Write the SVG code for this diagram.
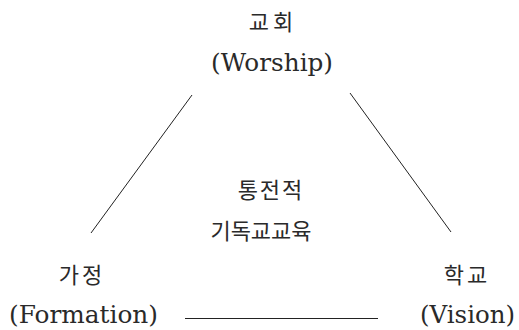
<svg xmlns="http://www.w3.org/2000/svg" width="519" height="330" viewBox="0 0 519 330">
<style>
.k{font-family:"Noto Sans CJK KR",sans-serif;font-size:22px;fill:#2a2a2a;text-anchor:middle}
.l{font-family:"DejaVu Serif",serif;font-size:24px;fill:#2a2a2a}
.c{stroke:#222;stroke-width:1;fill:none}
</style>
<rect width="519" height="330" fill="#fff"/>
<g id="connectors">
<line class="c" x1="192" y1="95" x2="91" y2="233"/>
<line class="c" x1="350" y1="93" x2="451" y2="232"/>
<line class="c" x1="185" y1="318.5" x2="378" y2="318.5"/>
</g>
<g id="church">
<text class="k" x="273" y="30" letter-spacing="4">교회</text>
<text class="l" x="211" y="71" textLength="122" lengthAdjust="spacingAndGlyphs">(Worship)</text>
</g>
<g id="center">
<text class="k" x="271" y="198" letter-spacing="2">통전적</text>
<text class="k" x="261" y="239">기독교교육</text>
</g>
<g id="home">
<text class="k" x="82" y="283" letter-spacing="3">가정</text>
<text class="l" x="9" y="323" textLength="149" lengthAdjust="spacingAndGlyphs">(Formation)</text>
</g>
<g id="school">
<text class="k" x="467" y="283" letter-spacing="3">학교</text>
<text class="l" x="420" y="323" textLength="95" lengthAdjust="spacingAndGlyphs">(Vision)</text>
</g>
</svg>
